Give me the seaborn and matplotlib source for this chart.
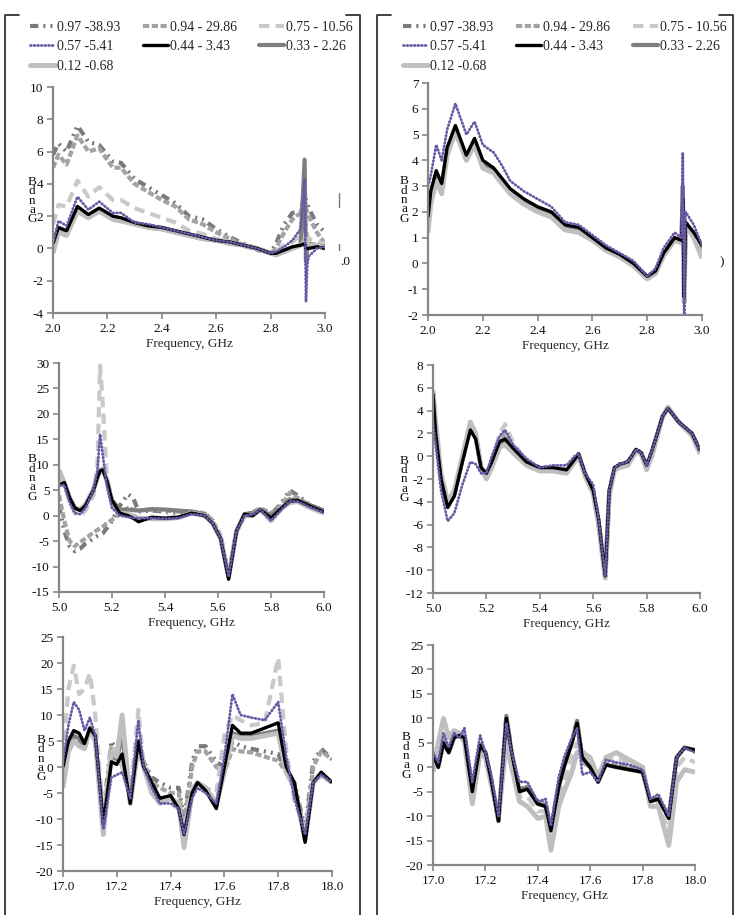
import matplotlib
matplotlib.use("Agg")
import matplotlib.pyplot as plt
from matplotlib.lines import Line2D
import seaborn as sns

# ---------------- data ----------------
labels = ["0.97 -38.93", "0.94 - 29.86", "0.75 - 10.56", "0.57 -5.41",
          "0.44 - 3.43", "0.33 - 2.26", "0.12 -0.68"]

# top-left panel (2-3 GHz)
x_tl = [2.00, 2.02, 2.05, 2.09, 2.13, 2.17, 2.22, 2.25, 2.30, 2.35, 2.40, 2.45, 2.50, 2.55, 2.60,
        2.65, 2.70, 2.75, 2.80, 2.82, 2.85, 2.88, 2.91, 2.925, 2.93, 2.935, 2.94, 2.97, 3.00]
tl_097 = [5.8, 6.5, 6.0, 7.6, 6.6, 6.4, 5.4, 5.3, 4.3, 3.8, 3.3, 2.8, 2.0, 1.8, 1.2, 0.7, 0.3, 0.0,
          -0.3, 0.3, 1.5, 2.2, 2.3, 3.5, 3.0, 2.8, 2.5, 1.5, 1.0]
tl_094 = [5.0, 5.8, 5.2, 7.0, 6.0, 6.2, 5.0, 5.0, 4.0, 3.5, 3.0, 2.6, 1.8, 1.5, 1.0, 0.6, 0.2, -0.1,
          -0.3, 0.0, 1.0, 1.8, 2.2, 3.0, 2.5, 2.2, 2.0, 1.0, 0.3]
tl_075 = [1.5, 2.7, 2.6, 4.2, 3.2, 3.8, 3.0, 3.0, 2.5, 2.2, 1.9, 1.6, 1.1, 0.9, 0.6, 0.4, 0.1, 0.0,
          -0.3, -0.2, 0.2, 0.4, 0.8, 1.2, 1.5, 0.8, 0.6, 0.4, 0.3]
tl_057 = [0.3, 1.7, 1.4, 3.2, 2.4, 2.9, 2.2, 2.2, 1.6, 1.5, 1.3, 1.1, 0.9, 0.7, 0.5, 0.4, 0.2, 0.0,
          -0.3, -0.2, 0.1, 0.5, 1.2, 4.3, -3.3, -1.0, -0.5, 0.0, 0.1]
tl_044 = [0.3, 1.3, 1.1, 2.6, 2.1, 2.5, 2.0, 1.9, 1.6, 1.4, 1.3, 1.1, 0.9, 0.7, 0.5, 0.4, 0.2, 0.0,
          -0.3, -0.3, -0.1, 0.1, 0.2, 0.3, 0.0, 0.0, 0.0, 0.1, 0.0]
tl_033 = [0.0, 1.1, 0.9, 2.5, 2.0, 2.4, 1.9, 1.8, 1.5, 1.3, 1.2, 1.0, 0.8, 0.6, 0.5, 0.3, 0.2, 0.0,
          -0.3, -0.4, -0.2, 0.0, 0.2, 5.5, -0.8, 0.0, 0.3, 0.2, 0.1]
tl_012 = [-0.3, 1.0, 0.8, 2.3, 1.9, 2.3, 1.8, 1.7, 1.5, 1.3, 1.2, 1.0, 0.8, 0.6, 0.5, 0.3, 0.2, 0.0,
          -0.3, -0.4, -0.2, 0.0, 0.2, 0.4, 0.6, 0.2, 0.2, 0.2, 0.0]

# top-right panel (2-3 GHz)
x_tr = [2.00, 2.01, 2.03, 2.05, 2.07, 2.10, 2.14, 2.17, 2.20, 2.24, 2.27, 2.30, 2.35, 2.40, 2.45,
        2.50, 2.55, 2.60, 2.65, 2.70, 2.75, 2.80, 2.83, 2.86, 2.90, 2.925, 2.93, 2.935, 2.94, 2.97, 3.00]
tr_097 = [1.7, 2.7, 3.5, 3.0, 4.4, 5.3, 4.1, 4.8, 3.9, 3.6, 3.2, 2.8, 2.4, 2.1, 1.9, 1.45, 1.35, 0.95,
          0.6, 0.3, 0.0, -0.5, -0.3, 0.4, 1.0, 0.9, 2.2, -1.2, 1.6, 1.1, 0.6]
tr_094 = [1.6, 2.6, 3.4, 2.9, 4.3, 5.2, 4.1, 4.7, 3.8, 3.6, 3.1, 2.8, 2.4, 2.1, 1.9, 1.4, 1.3, 0.95,
          0.55, 0.3, -0.05, -0.55, -0.35, 0.35, 1.0, 0.85, 2.0, -1.2, 1.5, 1.1, 0.6]
tr_075 = [1.4, 2.5, 3.3, 2.8, 4.3, 5.2, 4.0, 4.7, 3.8, 3.5, 3.1, 2.7, 2.3, 2.0, 1.8, 1.35, 1.25, 0.9,
          0.5, 0.25, -0.1, -0.6, -0.4, 0.3, 0.9, 0.8, 2.0, -1.4, 1.5, 1.0, 0.4]
tr_057 = [3.0, 3.4, 4.6, 4.0, 5.2, 6.2, 5.0, 5.5, 4.6, 4.3, 3.8, 3.2, 2.8, 2.5, 2.2, 1.6, 1.5, 1.1,
          0.7, 0.4, 0.1, -0.5, -0.2, 0.6, 1.2, 1.0, 4.3, -2.0, 2.0, 1.5, 0.7]
tr_044 = [1.8, 2.8, 3.6, 3.1, 4.5, 5.35, 4.2, 4.85, 4.0, 3.7, 3.3, 2.9, 2.5, 2.2, 2.0, 1.5, 1.4, 1.0,
          0.6, 0.35, 0.0, -0.5, -0.3, 0.4, 1.0, 0.9, 2.5, -1.3, 1.6, 1.2, 0.7]
tr_033 = [1.5, 2.6, 3.4, 2.9, 4.4, 5.2, 4.1, 4.7, 3.9, 3.6, 3.2, 2.8, 2.4, 2.1, 1.9, 1.4, 1.3, 0.95,
          0.55, 0.3, -0.05, -0.55, -0.35, 0.35, 0.95, 0.85, 3.0, -1.0, 1.5, 1.1, 0.6]
tr_012 = [1.2, 2.3, 3.2, 2.7, 4.2, 5.1, 4.0, 4.6, 3.7, 3.5, 3.1, 2.7, 2.3, 2.0, 1.8, 1.3, 1.2, 0.9,
          0.5, 0.25, -0.1, -0.6, -0.4, 0.3, 0.9, 0.8, 2.0, -1.5, 1.5, 1.0, 0.2]

# middle-left panel (5-6 GHz)
x_ml = [5.00, 5.02, 5.04, 5.06, 5.08, 5.10, 5.13, 5.145, 5.155, 5.165, 5.18, 5.20, 5.23, 5.26, 5.28,
        5.30, 5.35, 5.40, 5.45, 5.50, 5.55, 5.58, 5.61, 5.64, 5.67, 5.70, 5.73, 5.76, 5.80, 5.84,
        5.87, 5.90, 5.95, 6.00]
ml_097 = [2.0, -3.0, -6.0, -7.0, -6.5, -5.5, -4.5, -4.0, -3.8, -3.5, -2.5, -1.0, 2.0, 4.2, 3.5, 0.8,
          1.0, 0.8, 0.5, 0.8, 0.5, -1.0, -4.0, -12.0, -3.0, 0.0, 0.5, 1.5, 0.2, 2.5, 5.0, 4.0, 2.0, 1.0]
ml_094 = [4.0, -1.0, -5.0, -6.0, -5.2, -4.5, -3.3, -2.8, -2.5, -2.2, -1.5, -0.8, 0.3, 1.5, 1.2, 1.0,
          1.2, 1.0, 0.8, 0.8, 0.4, -1.0, -4.0, -12.0, -3.0, 0.2, 0.6, 1.5, 0.5, 2.0, 4.5, 3.5, 2.0, 1.0]
ml_075 = [8.0, 6.0, 3.0, 0.5, 0.0, 1.0, 4.0, 10.0, 29.5, 22.0, 8.0, 3.0, 0.5, 0.5, 0.0, -0.5, -0.5,
          -0.4, -0.3, 0.5, 0.0, -1.5, -4.5, -12.0, -3.0, 0.0, 0.3, 1.3, -0.5, 1.5, 3.0, 3.0, 1.8, 0.8]
ml_057 = [6.0, 6.0, 2.5, 0.5, 0.3, 1.5, 5.0, 9.0, 16.0, 12.0, 6.0, 1.5, 0.0, -0.3, -0.4, -0.5, -0.5,
          -0.6, -0.5, 0.3, 0.0, -1.5, -4.5, -12.0, -3.0, 0.0, 0.2, 1.2, -1.0, 1.2, 2.8, 2.8, 1.6, 0.6]
ml_044 = [6.0, 6.5, 3.5, 1.5, 1.0, 2.0, 5.0, 7.5, 8.8, 9.0, 7.0, 3.0, 0.5, 0.0, -0.5, -1.2, -0.3,
          -0.5, -0.3, 0.5, 0.0, -1.5, -4.5, -12.5, -3.0, 0.3, 0.0, 1.2, -0.5, 1.5, 2.8, 3.0, 1.8, 0.7]
ml_033 = [6.0, 6.5, 3.5, 1.5, 1.2, 2.0, 5.0, 7.5, 8.8, 9.0, 7.0, 3.0, 1.2, 1.2, 1.1, 1.0, 1.3, 1.2,
          1.0, 0.8, 0.3, -1.5, -4.5, -12.0, -3.0, 0.3, 0.5, 1.2, 0.0, 1.5, 3.2, 3.0, 2.0, 1.0]
ml_012 = [9.0, 6.5, 3.5, 1.5, 1.2, 2.2, 5.2, 7.8, 9.0, 9.2, 7.0, 2.5, 0.5, 0.3, 0.0, -0.5, -0.6,
          -0.6, -0.4, 0.5, 0.0, -1.5, -4.5, -12.0, -3.0, 0.0, 0.0, 1.2, -1.0, 1.5, 2.5, 2.8, 1.5, 0.5]

# middle-right panel (5-6 GHz)
x_mr = [5.000, 5.010, 5.030, 5.055, 5.080, 5.110, 5.140, 5.160, 5.180, 5.200, 5.220, 5.250, 5.270,
        5.300, 5.350, 5.400, 5.450, 5.500, 5.530, 5.545, 5.570, 5.600, 5.620, 5.645, 5.660, 5.680,
        5.700, 5.730, 5.760, 5.780, 5.800, 5.820, 5.860, 5.880, 5.920, 5.970, 6.000]
mr_097 = [5.5, 2.2, -2.0, -4.4, -3.4, -0.4, 2.5, 1.6, -1.0, -1.6, -0.6, 1.4, 1.8, 0.8, -0.5, -1.0,
          -1.0, -1.2, -0.3, 0.2, -1.5, -3.0, -5.6, -10.5, -3.1, -1.0, -0.7, -0.5, 0.6, 0.3, -0.8,
          0.4, 3.5, 4.2, 3.0, 2.0, 0.5]
mr_094 = [5.5, 2.3, -1.9, -4.3, -3.3, -0.3, 2.6, 1.7, -1.0, -1.7, -0.6, 1.5, 2.0, 0.9, -0.6, -1.1,
          -1.1, -1.3, -0.4, 0.1, -1.6, -3.1, -5.7, -10.5, -3.2, -1.0, -0.8, -0.6, 0.5, 0.3, -0.9,
          0.3, 3.5, 4.2, 3.0, 2.0, 0.4]
mr_075 = [5.6, 2.5, -1.8, -4.2, -3.2, -0.2, 2.8, 1.9, -1.0, -1.8, -0.5, 2.0, 2.8, 1.2, -0.5, -1.2,
          -1.0, -1.2, -0.3, 0.1, -1.7, -3.2, -5.8, -10.6, -3.3, -1.1, -0.9, -0.7, 0.5, 0.2, -1.0,
          0.2, 3.5, 4.3, 3.0, 1.9, 0.3]
mr_057 = [3.0, 1.0, -3.0, -5.7, -5.0, -2.5, -0.5, -0.7, -1.5, -1.5, 0.0, 1.8, 2.3, 1.0, -0.2, -1.0,
          -0.8, -0.8, 0.0, 0.2, -1.5, -2.5, -5.5, -10.5, -3.0, -1.0, -0.7, -0.5, 0.6, 0.3, -0.8,
          0.5, 3.5, 4.2, 3.0, 2.0, 0.5]
mr_044 = [5.5, 2.0, -2.0, -4.5, -3.5, -0.5, 2.3, 1.5, -1.0, -1.5, -0.5, 1.3, 1.5, 0.7, -0.5, -1.0,
          -1.0, -1.2, -0.3, 0.2, -1.5, -3.0, -5.5, -10.5, -3.0, -1.0, -0.7, -0.5, 0.6, 0.3, -0.8,
          0.5, 3.5, 4.2, 3.0, 2.0, 0.5]
mr_033 = [5.6, 2.6, -1.8, -4.3, -3.3, -0.3, 2.7, 1.8, -1.0, -1.8, -0.8, 1.0, 1.2, 0.5, -0.7, -1.2,
          -1.2, -1.4, -0.4, 0.1, -1.7, -3.2, -5.8, -10.6, -3.3, -1.1, -0.9, -0.7, 0.5, 0.2, -1.0,
          0.2, 3.5, 4.2, 3.0, 1.9, 0.3]
mr_012 = [5.8, 3.0, -1.5, -4.0, -3.0, 0.0, 3.0, 2.0, -1.0, -2.0, -1.0, 0.8, 1.0, 0.3, -0.8, -1.3,
          -1.3, -1.5, -0.5, 0.1, -1.8, -3.3, -6.0, -10.7, -3.5, -1.2, -1.0, -0.8, 0.4, 0.2, -1.2,
          0.0, 3.5, 4.3, 3.0, 1.8, 0.2]

# bottom-left panel (17-18 GHz)
x_bl = [17.00, 17.02, 17.04, 17.06, 17.08, 17.10, 17.12, 17.15, 17.18, 17.20, 17.22, 17.25, 17.28,
        17.30, 17.33, 17.36, 17.40, 17.43, 17.45, 17.48, 17.50, 17.53, 17.57, 17.60, 17.63, 17.66,
        17.70, 17.75, 17.80, 17.83, 17.86, 17.90, 17.93, 17.96, 18.00]
bl_097 = [-3, 4, 6, 5, 4, 7, 5, -9, 5, 3, 1, -6, 4, 1, -2, -3, -4, -4, -10, 1, 4, 4, 1, 0, 5, 4,
          3.5, 3, 2.5, -1, -3, -12, 1, 3.5, 1.5]
bl_094 = [-2, 3, 5, 4.5, 3.5, 7, 5, -10, 4, 2.5, 1, -6, 5, 1, -3, -4, -5, -5, -11, 0, 3, 3, 0, -1,
          3.5, 3, 2.8, 2, 1.2, -1, -3.5, -13, 0, 3, 1.5]
bl_075 = [2, 15, 19.5, 14, 15, 18, 10, -10, 4, 3, 0, -6, 11, 0, -4, -6, -7, -8, -12, -4, -3, -4,
          -5, 6, 10, 9, 8, 8.5, 21, 3, -6.5, -12, -3, -1.5, -3]
bl_057 = [1, 8, 12.5, 11, 7, 9.5, 6, -12, -2, -1.5, -1, -6, 9, 0, -4, -7, -7, -8, -13, -6, -4, -5,
          -7, 2, 14, 10, 9.5, 9, 12.5, 2, -6, -13, -3, -1.5, -3]
bl_044 = [0, 5, 7, 6.5, 4.5, 7.5, 6, -11, 1, 0.5, 2.5, -7, 5, 0, -3, -6, -5.5, -8, -13, -5, -3,
          -4.5, -8, 0, 8, 6.5, 6.5, 7.5, 8.5, 0, -3, -14.5, -3, -1, -3]
bl_033 = [-3, 4, 6, 5.5, 4, 7.5, 5.5, -12, 2, 1.5, 6, -7, 4.5, 0, -4, -6.5, -6, -7.5, -14, -5, -3,
          -4, -7.5, -0.5, 6.5, 6, 6, 6.5, 7, -0.5, -3.5, -14, -3, -1.2, -3]
bl_012 = [-4, 3, 5, 4, 3.5, 7.5, 5, -13, 3, 2, 10, -7, 4, 0, -5, -7, -6, -7, -15.5, -5, -3, -4,
          -7, -1, 6, 5.5, 5.5, 6, 6.5, -1, -4, -14, -3, -1.5, -3]

# bottom-right panel (17-18 GHz)
x_br = [17.00, 17.02, 17.04, 17.06, 17.08, 17.10, 17.12, 17.15, 17.18, 17.20, 17.22, 17.25, 17.28,
        17.30, 17.33, 17.36, 17.40, 17.43, 17.45, 17.48, 17.50, 17.53, 17.55, 17.57, 17.60, 17.63,
        17.66, 17.70, 17.75, 17.80, 17.83, 17.86, 17.90, 17.93, 17.96, 18.00]
br_097 = [3, 0, 5, 3, 6.5, 7, 6.5, -4.5, 5, 3, -2, -11, 10.5, 3, -4.5, -4, -7, -7.5, -12.5, -3.5,
          0.5, 5.5, 9.5, 1.5, 0, -3, 1, 0.5, 0, -0.7, -7, -6, -10, 2, 4, 3.5]
br_094 = [3, 0.5, 5.5, 3.5, 6.5, 7, 6.5, -5, 5, 3, -2, -11, 10, 3, -5, -4, -7.5, -7.5, -13, -3.5,
          0.5, 5, 9, 1, 0, -3, 1, 0.5, 0, -0.7, -7, -6.5, -10, 2, 4, 3.5]
br_075 = [2, 2, 6, 4, 7, 7, 6, -6, 4, 2.5, -2, -10.5, 8, 2, -6, -6, -9, -9, -15, -6, -3, 2, 5, 3.5,
          1.5, -2.5, 1.5, 2, 1, -0.5, -7.5, -7, -13, 0, 2, 1]
br_057 = [3, 1, 7, 4, 7, 6, 8, -3, 6.5, 3, -1, -10, 9, 3, -3, -3, -7, -6.5, -12, -2, 2, 6, 8, -1.5,
          -1, -3, 1.5, 1, 0.5, -0.5, -6.5, -5.5, -10, 2, 4, 3]
br_044 = [2.5, 0, 5, 3, 6, 6.5, 6, -5, 4.5, 3, -2, -11, 10, 3, -5, -4.5, -7.5, -8, -13, -4, 0, 5,
          9, 2, 0, -3, 0.5, 0, -0.5, -1, -7, -6.5, -10.5, 2, 4, 3.5]
br_033 = [3, 0, 5, 3, 6, 7, 6, -5, 4.5, 3, -2, -11, 10.5, 3, -5, -4, -7.5, -8, -13, -4, 0, 5, 9.5,
          2, 0, -3, 0.5, 0, -0.5, -1, -7, -6.5, -10, 2, 4, 3.5]
br_012 = [-1, 5, 10, 6, 7.5, 7, 5, -7.5, 3, 2, -3, -10, 5, 0, -7, -8, -10.5, -10, -17, -8, -5, -1,
          3, 3, 2, -2, 2, 3, 1.5, 0, -8, -8, -16, -3, -0.5, -1]

xticks_2 = [2.0, 2.2, 2.4, 2.6, 2.8, 3.0]
xticks_5 = [5.0, 5.2, 5.4, 5.6, 5.8, 6.0]
xticks_17 = [17.0, 17.2, 17.4, 17.6, 17.8, 18.0]
yticks_tl = [-4, -2, 0, 2, 4, 6, 8, 10]
yticks_tr = [-2, -1, 0, 1, 2, 3, 4, 5, 6, 7]
yticks_ml = [-15, -10, -5, 0, 5, 10, 15, 20, 25, 30]
yticks_mr = [-12, -10, -8, -6, -4, -2, 0, 2, 4, 6, 8]
yticks_b = [-20, -15, -10, -5, 0, 5, 10, 15, 20, 25]

# ---------------- styling ----------------
sns.set_theme(style="white")
plt.rcParams['font.family'] = ['Liberation Serif', 'DejaVu Serif']
plt.rcParams['axes.unicode_minus'] = False

W, H = 739, 915
fig = plt.figure(figsize=(W / 100, H / 100), dpi=100)
fig.patch.set_facecolor("white")

AX_COL = "#868686"
styles = {
    labels[0]: dict(color="#7a7a7a", lw=3.0, ls=(0, (2.0, 1.2, 0.5, 1.2, 0.5, 1.2)), cap="butt"),
    labels[1]: dict(color="#a3a3a3", lw=3.0, ls=(0, (1.5, 0.6)), cap="butt"),
    labels[2]: dict(color="#c9c9c9", lw=3.0, ls=(0, (2.5, 1.5)), cap="butt"),
    labels[3]: dict(color="#6a58a6", lw=2.0, ls=(0, (0.3, 1.0)), cap="round"),
    labels[4]: dict(color="#000000", lw=2.4, ls="-", cap="butt"),
    labels[5]: dict(color="#7f7f7f", lw=3.0, ls="-", cap="butt"),
    labels[6]: dict(color="#bfbfbf", lw=3.5, ls="-", cap="butt"),
}
draw_order = [labels[0], labels[1], labels[2], labels[5], labels[6], labels[4], labels[3]]


def px_axes(l, r, t, b):
    return fig.add_axes([l / W, 1 - b / H, (r - l) / W, (b - t) / H])


def panel(box, x, series, xlim, ylim, xticks, yticks, ylab_xy):
    ax = px_axes(*box)
    for lab in draw_order:
        st = styles[lab]
        sns.lineplot(x=x, y=series[lab], ax=ax, color=st["color"], linewidth=st["lw"],
                     linestyle=st["ls"], dash_capstyle=st["cap"], solid_capstyle="butt",
                     estimator=None, sort=False, legend=False)
    ax.set_xlim(*xlim)
    ax.set_ylim(*ylim)
    ax.set_xticks(xticks)
    ax.set_xticklabels([f"{v:.1f}" for v in xticks])
    ax.set_yticks(yticks)
    ax.set_yticklabels([str(v) for v in yticks])
    ax.set_xlabel("Frequency, GHz", fontsize=9.5, labelpad=2.5)
    ax.set_ylabel("")
    for s in ["top", "right"]:
        ax.spines[s].set_visible(False)
    for s in ["left", "bottom"]:
        ax.spines[s].set_color(AX_COL)
        ax.spines[s].set_linewidth(1.6)
    ax.tick_params(axis="both", which="major", direction="out", length=4, width=1.2,
                   color=AX_COL, labelsize=9.5, labelcolor="#111111", pad=3,
                   left=True, bottom=True)
    ax.set_facecolor("none")
    ax.grid(False)
    # broken vertical axis title "Gain, dB" (letters stacked, as in the source)
    xl, (yb, yg) = ylab_xy
    fig.text(xl / W, 1 - (yb + yg) / 2 / H, "B\nd\nn\na\nG", fontsize=9.5, ha="center",
             va="center", ma="center", linespacing=0.72, color="#111111")
    return ax


panel((53, 325, 87, 313), x_tl,
      {labels[0]: tl_097, labels[1]: tl_094, labels[2]: tl_075, labels[3]: tl_057,
       labels[4]: tl_044, labels[5]: tl_033, labels[6]: tl_012},
      (2.0, 3.0), (-4, 10), xticks_2, yticks_tl, (32, (180, 221)))
panel((428, 702, 83, 315), x_tr,
      {labels[0]: tr_097, labels[1]: tr_094, labels[2]: tr_075, labels[3]: tr_057,
       labels[4]: tr_044, labels[5]: tr_033, labels[6]: tr_012},
      (2.0, 3.0), (-2, 7), xticks_2, yticks_tr, (404, (180, 220)))
panel((59, 324, 363, 592), x_ml,
      {labels[0]: ml_097, labels[1]: ml_094, labels[2]: ml_075, labels[3]: ml_057,
       labels[4]: ml_044, labels[5]: ml_033, labels[6]: ml_012},
      (5.0, 6.0), (-15, 30), xticks_5, yticks_ml, (32, (458, 498)))
panel((433, 700, 365, 593), x_mr,
      {labels[0]: mr_097, labels[1]: mr_094, labels[2]: mr_075, labels[3]: mr_057,
       labels[4]: mr_044, labels[5]: mr_033, labels[6]: mr_012},
      (5.0, 6.0), (-12, 8), xticks_5, yticks_mr, (404, (459, 500)))
panel((63, 332, 637, 871), x_bl,
      {labels[0]: bl_097, labels[1]: bl_094, labels[2]: bl_075, labels[3]: bl_057,
       labels[4]: bl_044, labels[5]: bl_033, labels[6]: bl_012},
      (17.0, 18.0), (-20, 25), xticks_17, yticks_b, (41, (738, 779)))
panel((433, 695, 645, 865), x_br,
      {labels[0]: br_097, labels[1]: br_094, labels[2]: br_075, labels[3]: br_057,
       labels[4]: br_044, labels[5]: br_033, labels[6]: br_012},
      (17.0, 18.0), (-20, 25), xticks_17, yticks_b, (406, (736, 776)))

# ---------------- legends ----------------
handles = []
for lab in labels:
    st = styles[lab]
    handles.append(Line2D([], [], color=st["color"], lw=st["lw"], linestyle=st["ls"],
                          dash_capstyle=st["cap"], label=lab))
# column-major order so the visual layout reads row by row
order = [0, 3, 6, 1, 4, 2, 5]
for x0, cs in ((30, 1.6), (403, 1.65)):
    fig.legend([handles[i] for i in order], [labels[i] for i in order], ncol=3,
               loc="upper left", bbox_to_anchor=(x0 / W, 1 - 21 / H),
               frameon=False, fontsize=10, handlelength=1.8, handletextpad=0.15,
               columnspacing=cs, labelspacing=0.45, borderpad=0, borderaxespad=0)

# ---------------- frames (brackets) ----------------
def fline(xs, ys, **kw):
    fig.add_artist(Line2D([x / W for x in xs], [1 - y / H for y in ys], transform=fig.transFigure,
                          color=kw.get("color", "#333333"), lw=kw.get("lw", 1.3)))

for lx, rx in ((5, 360), (377, 733)):
    fline([lx + 14, lx, lx], [15, 15, 915])
    fline([rx - 14, rx, rx], [15, 15, 915])

# small leftovers of the source layout
fline([339, 339], [193, 207], color="#777777", lw=1.0)
fline([339, 339], [244, 250], color="#777777", lw=1.0)
fig.text(340 / W, 1 - 262 / H, ".0", fontsize=9.5, ha="left", va="center", color="#111111")
fig.text(720 / W, 1 - 262 / H, ")", fontsize=9.5, ha="left", va="center", color="#111111")

fig.savefig("out.png", dpi=100, facecolor="white")
